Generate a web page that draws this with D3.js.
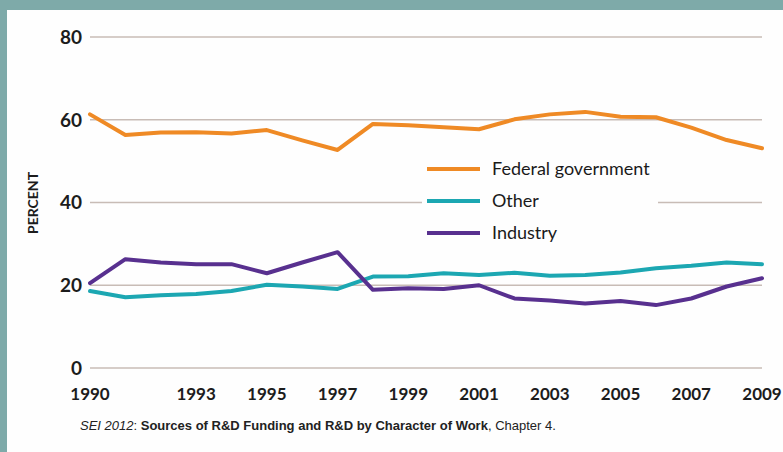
<!DOCTYPE html>
<html>
<head>
<meta charset="utf-8">
<script src="https://cdn.jsdelivr.net/npm/d3@7"></script>
<style>
  html, body { margin: 0; padding: 0; background: #7eaaa9; }
  #chart { width: 783px; height: 452px; }
</style>
</head>
<body>
<div id="chart"></div>
<script>
const years = d3.range(1990, 2010);
const federal = [61.3, 56.3, 56.9, 57.0, 56.7, 57.5, 55.0, 52.7, 59.0, 58.7, 58.2, 57.7, 60.1, 61.3, 61.9, 60.7, 60.6, 58.1, 55.1, 53.1];
const other = [18.6, 17.1, 17.6, 17.9, 18.6, 20.1, 19.7, 19.1, 22.1, 22.2, 22.9, 22.5, 23.0, 22.3, 22.5, 23.1, 24.1, 24.7, 25.5, 25.1];
const industry = [20.5, 26.3, 25.5, 25.1, 25.1, 22.9, 25.5, 28.0, 18.9, 19.3, 19.1, 20.0, 16.8, 16.3, 15.6, 16.2, 15.2, 16.8, 19.7, 21.7];
const yTicks = [0, 20, 40, 60, 80];
const xTickYears = [1990, 1993, 1995, 1997, 1999, 2001, 2003, 2005, 2007, 2009];

const series = [
  { name: 'Federal government', values: federal, color: '#ef8a25' },
  { name: 'Other', values: other, color: '#1ca7b2' },
  { name: 'Industry', values: industry, color: '#58308f' },
];

const width = 783;
const height = 452;

const svg = d3
  .select('#chart')
  .append('svg')
  .attr('width', width)
  .attr('height', height);

// white panel inside teal frame
svg.append('rect')
  .attr('x', 7)
  .attr('y', 10)
  .attr('width', width - 7)
  .attr('height', height - 10)
  .attr('fill', '#fefefe');

const x = d3.scaleLinear().domain([1990, 2009]).range([90, 762]);
const y = d3.scaleLinear().domain([0, 80]).range([368, 37]);

// gridlines
svg.append('g')
  .selectAll('line')
  .data(yTicks)
  .join('line')
  .attr('x1', x(1990))
  .attr('x2', x(2009))
  .attr('y1', d => y(d))
  .attr('y2', d => y(d))
  .attr('stroke', '#c8bcb6')
  .attr('stroke-width', 1.5);

// y tick labels
svg.append('g')
  .selectAll('text')
  .data(yTicks)
  .join('text')
  .attr('x', 82)
  .attr('y', d => y(d))
  .attr('dy', '0.36em')
  .attr('text-anchor', 'end')
  .style('font-family', 'Lato, sans-serif')
  .style('font-weight', 'bold')
  .style('font-size', '19px')
  .attr('fill', '#1c1c1c')
  .text(d => d);

// x tick labels
svg.append('g')
  .selectAll('text')
  .data(xTickYears)
  .join('text')
  .attr('x', d => x(d))
  .attr('y', 400)
  .attr('text-anchor', 'middle')
  .style('font-family', 'Lato, sans-serif')
  .style('font-weight', 'bold')
  .style('font-size', '17px')
  .attr('fill', '#1c1c1c')
  .text(d => d);

// axis title
svg.append('text')
  .attr('transform', 'translate(38,203) rotate(-90)')
  .attr('text-anchor', 'middle')
  .style('font-family', 'Lato, sans-serif')
  .style('font-weight', 'bold')
  .style('font-size', '14px')
  .attr('fill', '#1c1c1c')
  .text('PERCENT');

const line = d3.line()
  .x((d, i) => x(years[i]))
  .y(d => y(d));

svg.append('g')
  .selectAll('path')
  .data(series)
  .join('path')
  .attr('d', d => line(d.values))
  .attr('fill', 'none')
  .attr('stroke', d => d.color)
  .attr('stroke-width', 4)
  .attr('stroke-linejoin', 'round')
  .attr('stroke-linecap', 'round');

// legend
const legend = svg.append('g');
legend.append('rect')
  .attr('x', 422)
  .attr('y', 150)
  .attr('width', 236)
  .attr('height', 100)
  .attr('fill', '#fefefe');

const item = legend.selectAll('g')
  .data(series)
  .join('g')
  .attr('transform', (d, i) => `translate(0,${169 + i * 32})`);

item.append('line')
  .attr('x1', 427)
  .attr('x2', 480)
  .attr('stroke', d => d.color)
  .attr('stroke-width', 4);

item.append('text')
  .attr('x', 492)
  .attr('dy', '0.35em')
  .style('font-family', 'Lato, sans-serif')
  .style('font-size', '18px')
  .attr('fill', '#1a1a1a')
  .text(d => d.name);

// caption
const cap = svg.append('text')
  .attr('x', 80)
  .attr('y', 430)
  .style('font-family', '"Liberation Sans", Arial, sans-serif')
  .style('font-size', '13px')
  .attr('fill', '#222');
cap.append('tspan').style('font-style', 'italic').text('SEI 2012');
cap.append('tspan').text(': ');
cap.append('tspan').style('font-weight', 'bold').text('Sources of R&D Funding and R&D by Character of Work');
cap.append('tspan').text(', Chapter 4.');
</script>
</body>
</html>
